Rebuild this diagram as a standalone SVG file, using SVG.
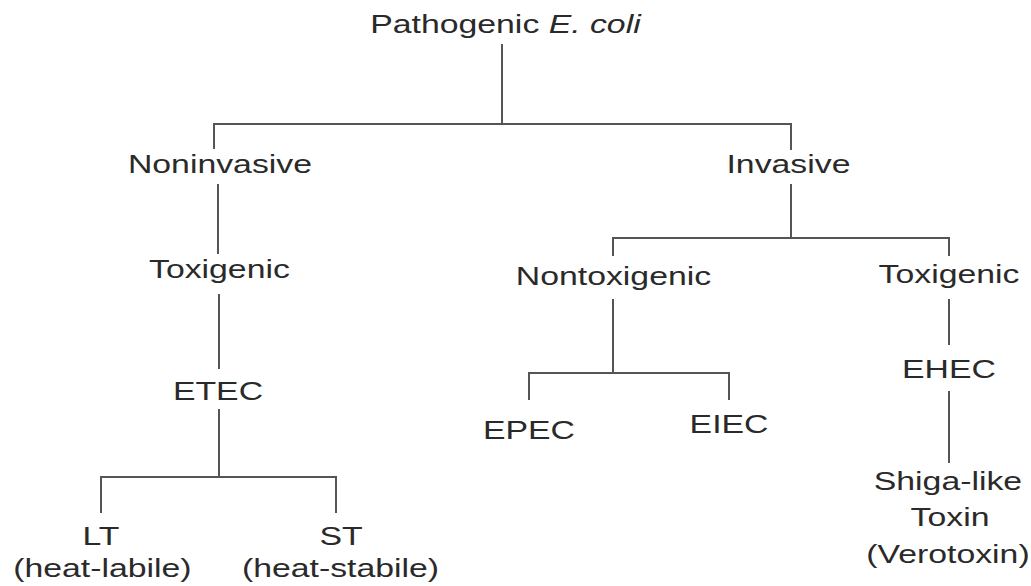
<svg xmlns="http://www.w3.org/2000/svg" width="1031" height="586" viewBox="0 0 1031 586">
<style>
.t{font-family:"Liberation Sans",Arial,sans-serif;font-size:26px;fill:#2a2a2a;text-anchor:middle}
.c{stroke:#555;stroke-width:2;fill:none;stroke-linecap:square}
</style>
<rect width="1031" height="586" fill="#fff"/>
<g id="connectors">
<path class="c" d="M502 45V124M214 148V124H791V149"/>
<path class="c" d="M218 185V253"/>
<path class="c" d="M219 295V368"/>
<path class="c" d="M219 410V477M101 512V477H336V512"/>
<path class="c" d="M791 185V238M613 255V238H949V255"/>
<path class="c" d="M613 300V373M529 399V373H729V399"/>
<path class="c" d="M949 300V344"/>
<path class="c" d="M949 392V462"/>
</g>
<g id="root" transform="scale(1.3 1)"><text class="t" x="388.8" y="33">Pathogenic <tspan font-style="italic">E. coli</tspan></text></g>
<g id="noninvasive" transform="scale(1.3 1)"><text class="t" x="169.2" y="173">Noninvasive</text></g>
<g id="invasive" transform="scale(1.3 1)"><text class="t" x="606.5" y="173">Invasive</text></g>
<g id="toxigenic-left" transform="scale(1.3 1)"><text class="t" x="168.8" y="278">Toxigenic</text></g>
<g id="etec" transform="scale(1.3 1)"><text class="t" x="167.7" y="400">ETEC</text></g>
<g id="lt" transform="scale(1.3 1)"><text class="t" x="77.7" y="545">LT</text><text class="t" x="78.8" y="577">(heat-labile)</text></g>
<g id="st" transform="scale(1.3 1)"><text class="t" x="262.3" y="545">ST</text><text class="t" x="261.9" y="577">(heat-stabile)</text></g>
<g id="nontoxigenic" transform="scale(1.3 1)"><text class="t" x="471.9" y="285">Nontoxigenic</text></g>
<g id="toxigenic-right" transform="scale(1.3 1)"><text class="t" x="730" y="283">Toxigenic</text></g>
<g id="epec" transform="scale(1.3 1)"><text class="t" x="406.9" y="439">EPEC</text></g>
<g id="eiec" transform="scale(1.3 1)"><text class="t" x="560.8" y="433">EIEC</text></g>
<g id="ehec" transform="scale(1.3 1)"><text class="t" x="730" y="378">EHEC</text></g>
<g id="shiga" transform="scale(1.3 1)"><text class="t" x="729.2" y="490">Shiga-like</text><text class="t" x="730.8" y="526">Toxin</text><text class="t" x="729.2" y="563">(Verotoxin)</text></g>
</svg>
